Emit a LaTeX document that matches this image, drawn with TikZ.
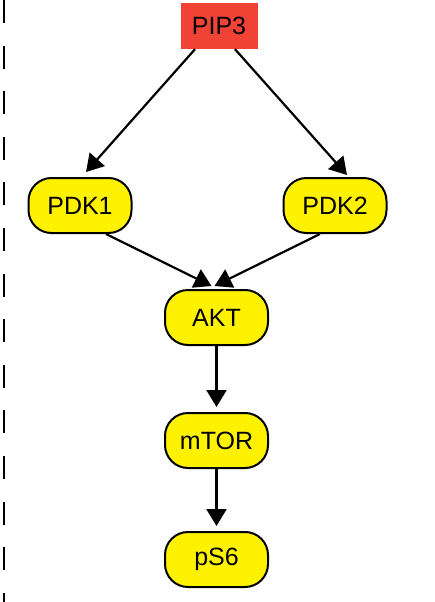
\documentclass[tikz,border=0pt]{standalone}
\usepackage{fontspec}
\setmainfont{Liberation Sans}
\usetikzlibrary{arrows.meta}
\definecolor{amarillo}{RGB}{255,242,0}
\definecolor{rojo}{RGB}{240,67,54}

\begin{document}
\begin{tikzpicture}[
    x=1pt, y=-1pt,
    font=\fontsize{25}{30}\selectfont,
    >={Triangle[length=17pt,width=20pt]},
    nodo/.style={
        draw,
        line width=2pt,
        rounded corners=23pt,
        minimum width=103pt,
        minimum height=55pt,
        inner sep=0pt,
        fill=amarillo
    },
    flecha/.style={->, line width=2.2pt}
]
    \useasboundingbox (0,0) rectangle (434,602);
    \draw[line width=2.2pt, dash pattern=on 23pt off 22.6pt] (4,0) -- (4,602);

    \node[fill=rojo, minimum width=77pt, minimum height=46pt, inner sep=0pt]
        (pip3) at (219,26) {PIP3};
    \node[nodo] (pdk1) at (80,205.5) {PDK1};
    \node[nodo] (pdk2) at (335,205.5) {PDK2};
    \node[nodo] (akt) at (216.5,317.5) {AKT};
    \node[nodo] (mtor) at (216.5,440.5) {mTOR};
    \node[nodo] (ps6) at (216.5,559.5) {pS6};

    \draw[flecha] ([xshift=-24pt]pip3.south) -- ([xshift=6pt,yshift=5pt]pdk1.north);
    \draw[flecha] ([xshift=16pt]pip3.south) -- ([xshift=12pt,yshift=2pt]pdk2.north);
    \draw[flecha] ([xshift=26pt]pdk1.south) -- ([xshift=-5pt,yshift=3pt]akt.north);
    \draw[flecha] ([xshift=-15pt]pdk2.south) -- ([xshift=-2pt,yshift=3pt]akt.north);
    \draw[flecha] (akt.south) -- ([yshift=5pt]mtor.north);
    \draw[flecha] (mtor.south) -- ([yshift=5pt]ps6.north);
\end{tikzpicture}
\end{document}
